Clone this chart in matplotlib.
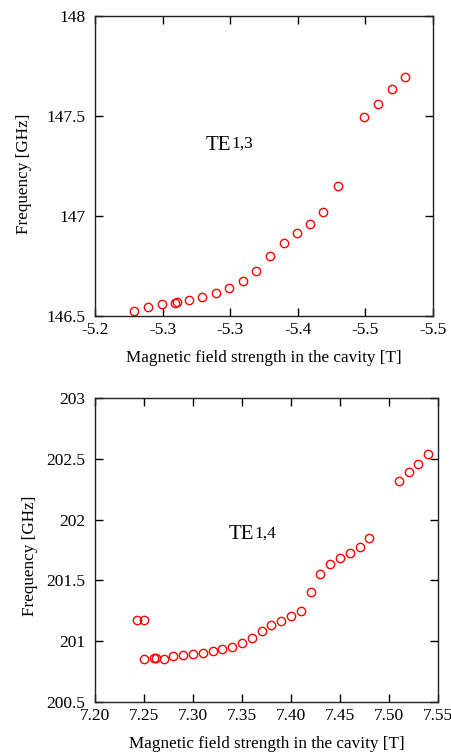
import matplotlib.pyplot as plt
import matplotlib.ticker as mticker

# TE1,3 mode (top panel)
b_te13 = [-5.2549, -5.2668, -5.2795, -5.2913, -5.2925, -5.3032, -5.3153, -5.3274,
          -5.3389, -5.3517, -5.3632, -5.3753, -5.3875, -5.3990, -5.4108, -5.4226,
          -5.4355, -5.4591, -5.4715, -5.4834, -5.4952]
f_te13 = [146.525, 146.543, 146.558, 146.566, 146.568, 146.580, 146.595, 146.613,
          146.641, 146.675, 146.726, 146.798, 146.863, 146.913, 146.961, 147.021,
          147.150, 147.496, 147.561, 147.633, 147.695]

# TE1,4 mode (bottom panel)
b_te14 = [7.243, 7.250, 7.250, 7.260, 7.262, 7.270, 7.280, 7.290, 7.300, 7.310,
          7.320, 7.330, 7.340, 7.350, 7.360, 7.370, 7.380, 7.390, 7.400, 7.410,
          7.420, 7.430, 7.440, 7.450, 7.460, 7.470, 7.480, 7.510, 7.520, 7.530, 7.540]
f_te14 = [201.172, 201.178, 200.851, 200.859, 200.859, 200.851, 200.876, 200.884,
          200.898, 200.906, 200.923, 200.936, 200.955, 200.983, 201.030, 201.087,
          201.137, 201.168, 201.208, 201.249, 201.406, 201.549, 201.636, 201.683,
          201.722, 201.772, 201.851, 202.321, 202.390, 202.453, 202.541]

xlabel = 'Magnetic field strength in the cavity [T]'
ylabel = 'Frequency [GHz]'

serif = ['Liberation Serif', 'DejaVu Serif']

fig = plt.figure(figsize=(4.52, 7.52), dpi=100)


def style(ax):
    for s in ax.spines.values():
        s.set_linewidth(1.0)
        s.set_color('#222222')
    ax.tick_params(direction='in', length=5.5, width=1.0, top=True, right=True,
                   labelsize=12.5)
    ax.tick_params(axis='x', pad=4)
    ax.tick_params(axis='y', pad=7)
    for lab in ax.get_xticklabels() + ax.get_yticklabels():
        lab.set_family(serif)


def g_fmt(v, pos):
    return ('%g' % round(v, 3))


# --- pannello superiore ---
ax1 = fig.add_axes([0.2102, 0.5798, 0.7478, 0.3989])
ax1.plot(b_te13, f_te13, 'o', mfc='none', mec='red', ms=6, mew=1.0)
ax1.set_xlim(-5.22, -5.52)
ax1.set_ylim(146.5, 148)
ax1.xaxis.set_major_locator(mticker.MultipleLocator(0.06))
ax1.xaxis.set_major_formatter(mticker.FormatStrFormatter('%.1f'))
ax1.yaxis.set_major_locator(mticker.MultipleLocator(0.5))
ax1.yaxis.set_major_formatter(mticker.FuncFormatter(g_fmt))
style(ax1)
ax1.set_xlabel(xlabel, family=serif, fontsize=12.3, labelpad=9)
ax1.set_ylabel(ylabel, family=serif, fontsize=12.3)
ax1.yaxis.set_label_coords(-0.186, 0.473)
t = ax1.text(0.327, 0.555, 'TE', transform=ax1.transAxes, family=serif, fontsize=15)
ax1.annotate('1,3', xy=(1, 0), xycoords=t, xytext=(0, 2), textcoords='offset points',
             family=serif, fontsize=12.5, va='bottom')

# --- pannello inferiore ---
ax2 = fig.add_axes([0.2102, 0.0665, 0.7588, 0.4043])
ax2.plot(b_te14, f_te14, 'o', mfc='none', mec='red', ms=6, mew=1.0)
ax2.set_xlim(7.20, 7.55)
ax2.set_ylim(200.5, 203)
ax2.xaxis.set_major_locator(mticker.MultipleLocator(0.05))
ax2.xaxis.set_major_formatter(mticker.FormatStrFormatter('%.2f'))
ax2.yaxis.set_major_locator(mticker.MultipleLocator(0.5))
ax2.yaxis.set_major_formatter(mticker.FuncFormatter(g_fmt))
style(ax2)
ax2.set_xlabel(xlabel, family=serif, fontsize=12.3, labelpad=9)
ax2.set_ylabel(ylabel, family=serif, fontsize=12.3)
ax2.yaxis.set_label_coords(-0.166, 0.480)
t2 = ax2.text(0.39, 0.535, 'TE', transform=ax2.transAxes, family=serif, fontsize=15)
ax2.annotate('1,4', xy=(1, 0), xycoords=t2, xytext=(0, 2), textcoords='offset points',
             family=serif, fontsize=12.5, va='bottom')

plt.savefig('out.png', dpi=100)
